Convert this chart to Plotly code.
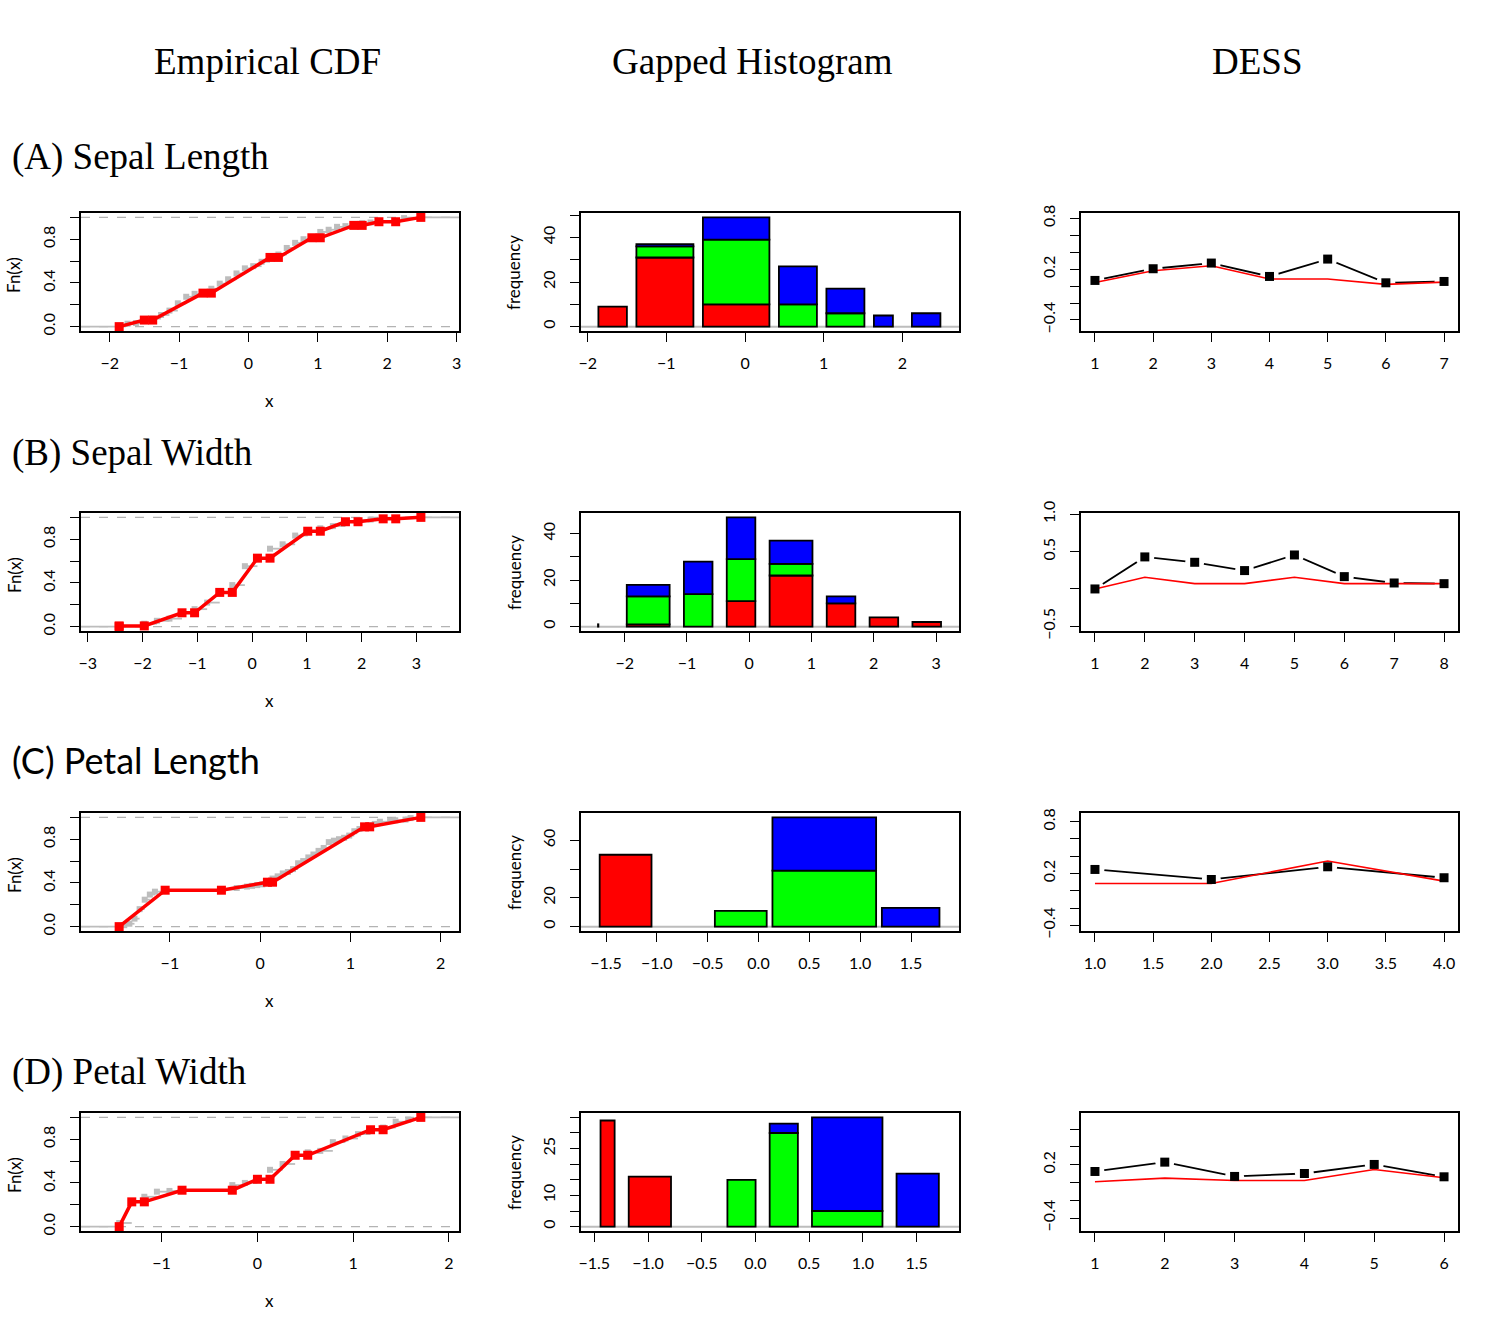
import plotly.graph_objects as go

# ======================= DATA =======================
N_TOTAL = 150

# --- (A) Sepal Length ---
sl_values = [4.3, 4.4, 4.5, 4.6, 4.7, 4.8, 4.9, 5.0, 5.1, 5.2, 5.3, 5.4, 5.5, 5.6, 5.7, 5.8, 5.9, 6.0,
             6.1, 6.2, 6.3, 6.4, 6.5, 6.6, 6.7, 6.8, 6.9, 7.0, 7.1, 7.2, 7.3, 7.4, 7.6, 7.7, 7.9]
sl_counts = [1, 3, 1, 4, 2, 5, 6, 10, 9, 4, 1, 6, 7, 6, 8, 7, 3, 6,
             6, 4, 9, 7, 5, 2, 8, 3, 4, 1, 1, 3, 1, 1, 1, 4, 1]
sl_center, sl_scale = 5.843333, 0.828066
sl_bin_lo = [4.3, 4.7, 5.4, 6.2, 6.7, 7.2, 7.6]
sl_bin_hi = [4.6, 5.3, 6.1, 6.6, 7.1, 7.4, 7.9]
sl_red = [9, 31, 10, 0, 0, 0, 0]
sl_green = [0, 5, 29, 10, 6, 0, 0]
sl_blue = [0, 1, 10, 17, 11, 5, 6]
sl_dess_idx = [1, 2, 3, 4, 5, 6, 7]
sl_dess_black = [0.067, 0.205, 0.272, 0.114, 0.319, 0.039, 0.055]
sl_dess_red = [0.043, 0.181, 0.240, 0.083, 0.083, 0.020, 0.047]

# --- (B) Sepal Width ---
sw_values = [2.0, 2.2, 2.3, 2.4, 2.5, 2.6, 2.7, 2.8, 2.9, 3.0, 3.1, 3.2, 3.3, 3.4, 3.5, 3.6, 3.7,
             3.8, 3.9, 4.0, 4.1, 4.2, 4.4]
sw_counts = [1, 3, 4, 3, 8, 5, 9, 14, 10, 26, 11, 13, 6, 12, 6, 4, 3, 6, 2, 1, 1, 1, 1]
sw_center, sw_scale = 3.057333, 0.435866
sw_bin_lo = [2.0, 2.2, 2.6, 2.9, 3.2, 3.6, 3.9, 4.2]
sw_bin_hi = [2.0, 2.5, 2.8, 3.1, 3.5, 3.8, 4.1, 4.4]
sw_red = [0, 1, 0, 11, 22, 10, 4, 2]
sw_green = [1, 12, 14, 18, 5, 0, 0, 0]
sw_blue = [0, 5, 14, 18, 10, 3, 0, 0]
sw_dess_idx = [1, 2, 3, 4, 5, 6, 7, 8]
sw_dess_black = [0.0, 0.429, 0.357, 0.246, 0.455, 0.165, 0.080, 0.071]
sw_dess_red = [0.0, 0.156, 0.071, 0.071, 0.156, 0.071, 0.071, 0.071]

# --- (C) Petal Length ---
pl_values = [1.0, 1.1, 1.2, 1.3, 1.4, 1.5, 1.6, 1.7, 1.9, 3.0, 3.3, 3.5, 3.6, 3.7, 3.8, 3.9,
             4.0, 4.1, 4.2, 4.3, 4.4, 4.5, 4.6, 4.7, 4.8, 4.9, 5.0, 5.1, 5.2, 5.3, 5.4, 5.5,
             5.6, 5.7, 5.8, 5.9, 6.0, 6.1, 6.3, 6.4, 6.6, 6.7, 6.9]
pl_counts = [1, 1, 2, 7, 13, 13, 7, 4, 2, 1, 2, 2, 1, 1, 1, 3,
             5, 3, 4, 2, 4, 8, 3, 5, 4, 5, 4, 8, 2, 2, 2, 3,
             6, 3, 3, 2, 2, 3, 1, 1, 1, 2, 1]
pl_center, pl_scale = 3.758, 1.765298
pl_bin_lo = [1.0, 3.0, 4.0, 5.9]
pl_bin_hi = [1.9, 3.9, 5.8, 6.9]
pl_red = [50, 0, 0, 0]
pl_green = [0, 11, 39, 0]
pl_blue = [0, 0, 37, 13]
pl_dess_idx = [1, 2, 3, 4]
pl_dess_black = [0.247, 0.131, 0.278, 0.151]
pl_dess_red = [0.085, 0.085, 0.344, 0.112]

# --- (D) Petal Width ---
pw_values = [0.1, 0.2, 0.3, 0.4, 0.5, 0.6, 1.0, 1.1, 1.2, 1.3, 1.4, 1.5, 1.6, 1.7, 1.8, 1.9,
             2.0, 2.1, 2.2, 2.3, 2.4, 2.5]
pw_counts = [5, 29, 7, 7, 1, 1, 7, 3, 5, 13, 8, 12, 4, 2, 12, 5, 6, 6, 3, 8, 3, 3]
pw_center, pw_scale = 1.199333, 0.762238
pw_bin_lo = [0.1, 0.3, 1.0, 1.3, 1.6, 2.2]
pw_bin_hi = [0.2, 0.6, 1.2, 1.5, 2.1, 2.5]
pw_red = [34, 16, 0, 0, 0, 0]
pw_green = [0, 0, 15, 30, 5, 0]
pw_blue = [0, 0, 0, 3, 30, 17]
pw_dess_idx = [1, 2, 3, 4, 5, 6]
pw_dess_black = [0.124, 0.229, 0.068, 0.101, 0.203, 0.064]
pw_dess_red = [0.008, 0.049, 0.023, 0.023, 0.146, 0.053]

column_titles = ["Empirical CDF", "Gapped Histogram", "DESS"]
row_titles = ["(A) Sepal Length", "(B) Sepal Width", "(C) Petal Length", "(D) Petal Width"]

# ---- tick definitions ----
ecdf_xticks = [[-2, -1, 0, 1, 2, 3], [-3, -2, -1, 0, 1, 2, 3], [-1, 0, 1, 2], [-1, 0, 1, 2]]
ecdf_yticks = [0, 0.2, 0.4, 0.6, 0.8, 1.0]
ecdf_ylabels = ["0.0", "", "0.4", "", "0.8", ""]
hist_xticks = [[-2, -1, 0, 1, 2], [-2, -1, 0, 1, 2, 3],
               [-1.5, -1.0, -0.5, 0.0, 0.5, 1.0, 1.5], [-1.5, -1.0, -0.5, 0.0, 0.5, 1.0, 1.5]]
hist_xlabels = [["−2", "−1", "0", "1", "2"], ["−2", "−1", "0", "1", "2", "3"],
                ["−1.5", "−1.0", "−0.5", "0.0", "0.5", "1.0", "1.5"],
                ["−1.5", "−1.0", "−0.5", "0.0", "0.5", "1.0", "1.5"]]
hist_yticks = [[0, 10, 20, 30, 40, 50], [0, 10, 20, 30, 40], [0, 20, 40, 60],
               [0, 5, 10, 15, 20, 25, 30, 35]]
hist_ylabels = [["0", "", "20", "", "40", ""], ["0", "", "20", "", "40"], ["0", "20", "", "60"],
                ["0", "", "10", "", "", "25", "", ""]]
dess_xticks = [[1, 2, 3, 4, 5, 6, 7], [1, 2, 3, 4, 5, 6, 7, 8],
               [1.0, 1.5, 2.0, 2.5, 3.0, 3.5, 4.0], [1, 2, 3, 4, 5, 6]]
dess_xlabels = [["1", "2", "3", "4", "5", "6", "7"], ["1", "2", "3", "4", "5", "6", "7", "8"],
                ["1.0", "1.5", "2.0", "2.5", "3.0", "3.5", "4.0"], ["1", "2", "3", "4", "5", "6"]]
dess_yticks = [[-0.4, -0.2, 0.0, 0.2, 0.4, 0.6, 0.8], [-0.5, 0.0, 0.5, 1.0],
               [-0.4, -0.2, 0.0, 0.2, 0.4, 0.6, 0.8], [-0.4, -0.2, 0.0, 0.2, 0.4, 0.6]]
dess_ylabels = [["−0.4", "", "", "0.2", "", "", "0.8"], ["−0.5", "", "0.5", "1.0"],
                ["−0.4", "", "", "0.2", "", "", "0.8"], ["−0.4", "", "", "0.2", "", ""]]

# ======================= LAYOUT CONSTANTS =======================
W, H = 1500, 1333
COL_X = [(81, 459), (581, 959), (1081, 1458)]
ROW_Y = [(213, 331), (513, 631), (813, 931), (1113, 1231)]
ecdf_xrange = [[-2.414, 3.034], [-3.122, 3.776], [-1.985, 2.203], [-1.841, 2.105]]
ecdf_yrange = [-0.04, 1.04]
hist_xrange = [[-2.085, 2.72], [-2.702, 3.369], [-1.746, 1.972], [-1.624, 1.894]]
hist_yrange = [[-1.96, 50.96], [-1.88, 48.88], [-3.04, 79.04], [-1.4, 36.4]]
dess_xrange = [[0.76, 7.24], [0.72, 8.28], [0.88, 4.12], [0.8, 6.2]]
dess_yrange = [[-0.53, 0.863], [-0.563, 1.017], [-0.466, 0.901], [-0.546, 0.782]]

TICKFONT = dict(family="Lato, Open Sans, sans-serif", size=16, color="black")
LABFONT = dict(family="Lato, Open Sans, sans-serif", size=17, color="black")
SERIF = dict(family="Liberation Serif, Times New Roman, serif", size=37, color="black")
SANS_BIG = dict(family="Lato, Open Sans, sans-serif", size=36, color="black")

datasets = [
    (sl_values, sl_counts, sl_center, sl_scale, sl_bin_lo, sl_bin_hi, sl_red, sl_green, sl_blue,
     sl_dess_idx, sl_dess_black, sl_dess_red),
    (sw_values, sw_counts, sw_center, sw_scale, sw_bin_lo, sw_bin_hi, sw_red, sw_green, sw_blue,
     sw_dess_idx, sw_dess_black, sw_dess_red),
    (pl_values, pl_counts, pl_center, pl_scale, pl_bin_lo, pl_bin_hi, pl_red, pl_green, pl_blue,
     pl_dess_idx, pl_dess_black, pl_dess_red),
    (pw_values, pw_counts, pw_center, pw_scale, pw_bin_lo, pw_bin_hi, pw_red, pw_green, pw_blue,
     pw_dess_idx, pw_dess_black, pw_dess_red),
]

fig = go.Figure()
layout_axes = {}
shapes = []
annotations = []


def names(idx):
    n = idx + 1
    s = "" if n == 1 else str(n)
    return "x" + s, "y" + s, "xaxis" + s, "yaxis" + s


def minus(lbls):
    return [str(l).replace("-", "−") for l in lbls]


def make_axes(idx, row, col, xr, yr, xt, xl, yt, yl):
    xn, yn, xk, yk = names(idx)
    x0, x1 = COL_X[col]
    y0, y1 = ROW_Y[row]
    common = dict(showline=True, mirror=True, linecolor="black", linewidth=1.6,
                  ticks="outside", ticklen=9, tickwidth=1.4, tickcolor="black",
                  showgrid=False, zeroline=False, tickfont=TICKFONT, automargin=False,
                  fixedrange=True)
    layout_axes[xk] = dict(domain=[x0 / W, x1 / W], range=xr, anchor=yn,
                           tickmode="array", tickvals=xt, ticktext=xl,
                           ticklabelstandoff=8, **common)
    layout_axes[yk] = dict(domain=[1 - y1 / H, 1 - y0 / H], range=yr, anchor=xn,
                           tickmode="array", tickvals=yt, ticktext=yl, tickangle=-90,
                           ticklabelstandoff=9, **common)
    return xn, yn


for r, (vals, cnts, ctr, scl, blo, bhi, rc, gc, bc, didx, dblack, dred) in enumerate(datasets):
    # ---------------- ECDF ----------------
    xn, yn = make_axes(3 * r, r, 0, ecdf_xrange[r], ecdf_yrange,
                       ecdf_xticks[r], minus(ecdf_xticks[r]), ecdf_yticks, ecdf_ylabels)
    knots = [(v - ctr) / scl for v in vals]
    F = []
    acc = 0
    for c in cnts:
        acc += c
        F.append(acc / N_TOTAL)
    for yv in (0, 1):
        shapes.append(dict(type="line", xref=xn + " domain", yref=yn, x0=0, x1=1, y0=yv, y1=yv,
                           line=dict(color="#b3b3b3", width=1.4, dash="dash"), layer="below"))
    sx, sy = [ecdf_xrange[r][0], knots[0], None], [0, 0, None]
    for i in range(len(knots)):
        nxt = knots[i + 1] if i + 1 < len(knots) else ecdf_xrange[r][1]
        sx += [knots[i], nxt, None]
        sy += [F[i], F[i], None]
    fig.add_trace(go.Scatter(x=sx, y=sy, mode="lines", line=dict(color="#bdbdbd", width=1.8),
                             xaxis=xn, yaxis=yn, hoverinfo="skip", showlegend=False))
    fig.add_trace(go.Scatter(x=knots, y=F, mode="markers",
                             marker=dict(color="#bdbdbd", size=6, symbol="square"),
                             xaxis=xn, yaxis=yn, showlegend=False))
    rx, ry = [], []
    acc = 0
    for lo, hi, a, b, c in zip(blo, bhi, rc, gc, bc):
        rx.append((lo - ctr) / scl)
        ry.append(acc / N_TOTAL)
        acc += a + b + c
        rx.append((hi - ctr) / scl)
        ry.append(acc / N_TOTAL)
    fig.add_trace(go.Scatter(x=rx, y=ry, mode="lines+markers",
                             line=dict(color="#ff0000", width=3.5),
                             marker=dict(color="#ff0000", size=9, symbol="square"),
                             xaxis=xn, yaxis=yn, showlegend=False))
    annotations.append(dict(text="Fn(x)", x=14 / W, y=1 - ((ROW_Y[r][0] + ROW_Y[r][1]) / 2 + 3) / H,
                            xref="paper", yref="paper", showarrow=False, textangle=-90,
                            font=LABFONT, xanchor="center", yanchor="middle"))
    annotations.append(dict(text="x", x=269 / W, y=1 - (ROW_Y[r][1] + 69) / H,
                            xref="paper", yref="paper", showarrow=False,
                            font=LABFONT, xanchor="center", yanchor="middle"))

    # ---------------- Gapped histogram ----------------
    xn, yn = make_axes(3 * r + 1, r, 1, hist_xrange[r], hist_yrange[r],
                       hist_xticks[r], hist_xlabels[r], hist_yticks[r], hist_ylabels[r])
    shapes.append(dict(type="line", xref=xn + " domain", yref=yn, x0=0, x1=1, y0=0, y1=0,
                       line=dict(color="#bdbdbd", width=2), layer="below"))
    lo_s = [(v - ctr) / scl for v in blo]
    hi_s = [(v - ctr) / scl for v in bhi]
    base = [0] * len(blo)
    for counts, color in ((rc, "#ff0000"), (gc, "#00ff00"), (bc, "#0000ff")):
        bx, bw, by, bb = [], [], [], []
        for i, c in enumerate(counts):
            if c > 0:
                bx.append((lo_s[i] + hi_s[i]) / 2)
                bw.append(max(hi_s[i] - lo_s[i], 0.006))
                by.append(c)
                bb.append(base[i])
            base[i] += c
        fig.add_trace(go.Bar(x=bx, y=by, base=bb, width=bw, marker=dict(color=color,
                             line=dict(color="black", width=1.8)),
                             xaxis=xn, yaxis=yn, showlegend=False))
    annotations.append(dict(text="frequency", x=514 / W, y=1 - ((ROW_Y[r][0] + ROW_Y[r][1]) / 2 + 1) / H,
                            xref="paper", yref="paper", showarrow=False, textangle=-90,
                            font=LABFONT, xanchor="center", yanchor="middle"))

    # ---------------- DESS ----------------
    xn, yn = make_axes(3 * r + 2, r, 2, dess_xrange[r], dess_yrange[r],
                       dess_xticks[r], dess_xlabels[r], dess_yticks[r], dess_ylabels[r])
    fig.add_trace(go.Scatter(x=didx, y=dblack, mode="lines", line=dict(color="black", width=1.8),
                             xaxis=xn, yaxis=yn, showlegend=False))
    fig.add_trace(go.Scatter(x=didx, y=dblack, mode="markers",
                             marker=dict(color="white", size=19, symbol="circle"),
                             xaxis=xn, yaxis=yn, showlegend=False))
    fig.add_trace(go.Scatter(x=didx, y=dred, mode="lines", line=dict(color="#ff0000", width=1.6),
                             xaxis=xn, yaxis=yn, showlegend=False))
    fig.add_trace(go.Scatter(x=didx, y=dblack, mode="markers",
                             marker=dict(color="black", size=9, symbol="square"),
                             xaxis=xn, yaxis=yn, showlegend=False))

# column titles
for cx, t in zip([267, 752, 1257], column_titles):
    annotations.append(dict(text=t, x=cx / W, y=1 - 62 / H, xref="paper", yref="paper",
                            showarrow=False, font=SERIF, xanchor="center", yanchor="middle"))
# row titles
for ry_, t, f in zip([157, 453, 760, 1072], row_titles, [SERIF, SERIF, SANS_BIG, SERIF]):
    annotations.append(dict(text=t, x=10 / W, y=1 - ry_ / H, xref="paper", yref="paper",
                            showarrow=False, font=f, xanchor="left", yanchor="middle"))

fig.update_layout(width=W, height=H, margin=dict(l=0, r=0, t=0, b=0),
                  paper_bgcolor="white", plot_bgcolor="white", barmode="overlay",
                  showlegend=False, shapes=shapes, annotations=annotations, **layout_axes)

fig.write_html("out.html")
